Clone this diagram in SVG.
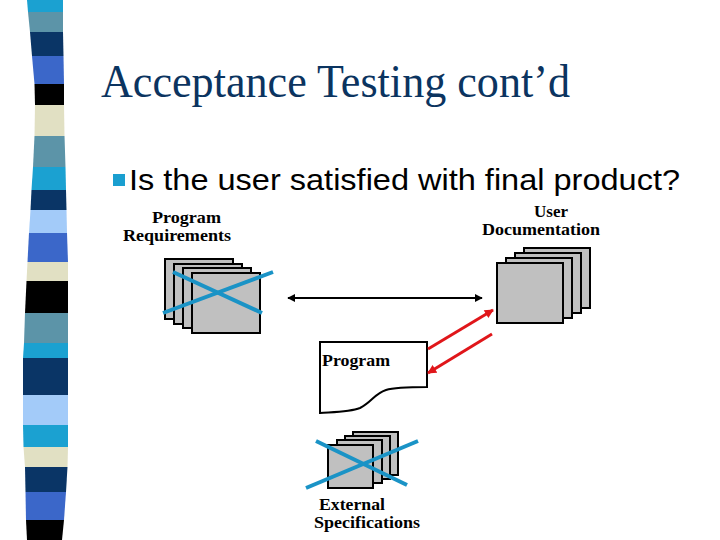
<svg xmlns="http://www.w3.org/2000/svg" width="720" height="540" viewBox="0 0 720 540">
<style>
.sheet{fill:#c0c0c0;stroke:#000;stroke-width:2}
.cross{stroke:#1a93c6;stroke-width:4;stroke-linecap:butt}
.lbl{font-family:"Liberation Serif","Times New Roman",serif;font-weight:bold;font-size:17px;fill:#000}
.red{stroke:#e0161a;stroke-width:3;fill:none}
</style>
<defs>
<marker id="ab" viewBox="0 0 10 10" refX="9" refY="5" markerWidth="4" markerHeight="4" orient="auto-start-reverse" markerUnits="strokeWidth"><path d="M0,0 L10,5 L0,10 Z" fill="#000"/></marker>
<marker id="ar" viewBox="0 0 10 10" refX="9" refY="5" markerWidth="3.3" markerHeight="3" orient="auto" markerUnits="strokeWidth"><path d="M0,0 L10,5 L0,10 Z" fill="#e0161a"/></marker>
</defs>
<rect width="720" height="540" fill="#fff"/>
<g id="stripes">
<polygon fill="#1ba1d1" points="27,0 63,0 63,12 28,12"/>
<polygon fill="#5c94a8" points="28,12 63,12 63,32 30,32"/>
<polygon fill="#0a3566" points="30,32 63,32 63.5,56 32,56"/>
<polygon fill="#3b67c9" points="32,56 63.5,56 64,84 34.5,84"/>
<polygon fill="#000000" points="34.5,84 64,84 64,105 35,105"/>
<polygon fill="#e1e0c3" points="35,105 64,105 64.5,136 34.5,136"/>
<polygon fill="#5c94a8" points="34.5,136 64.5,136 65.5,167 33,167"/>
<polygon fill="#1ba1d1" points="33,167 65.5,167 66,190 31.5,190"/>
<polygon fill="#0a3566" points="31.5,190 66,190 66.5,210 30.5,210"/>
<polygon fill="#a3cbf9" points="30.5,210 66.5,210 67,233 29,233"/>
<polygon fill="#3b67c9" points="29,233 67,233 68,262 27.5,262"/>
<polygon fill="#e1e0c3" points="27.5,262 68,262 68,281 26.5,281"/>
<polygon fill="#000000" points="26.5,281 68,281 68,313 25,313"/>
<polygon fill="#5c94a8" points="25,313 68,313 68,343 24,343"/>
<polygon fill="#1ba1d1" points="24,343 68,343 68,358 23,358"/>
<polygon fill="#0a3566" points="23,358 68,358 68,395 23,395"/>
<polygon fill="#a3cbf9" points="23,395 68,395 68,425 23,425"/>
<polygon fill="#1ba1d1" points="23,425 68,425 68,447 23.5,447"/>
<polygon fill="#e1e0c3" points="23.5,447 68,447 67.5,467 25,467"/>
<polygon fill="#0a3566" points="25,467 67.5,467 66,492 25.5,492"/>
<polygon fill="#3b67c9" points="25.5,492 66,492 64,520 26,520"/>
<polygon fill="#000000" points="26,520 64,520 62,540 27,540"/>
</g>
<g id="title">
<text x="101" y="97" font-family="Liberation Serif,'Times New Roman',serif" font-size="46" fill="#0b3460" textLength="469" lengthAdjust="spacingAndGlyphs">Acceptance Testing cont’d</text>
</g>
<g id="bullet">
<rect x="113" y="174" width="12" height="12" fill="#1a9fd0"/>
<text x="129" y="190" font-family="Liberation Sans,Arial,sans-serif" font-size="29" fill="#000" textLength="551" lengthAdjust="spacingAndGlyphs">Is the user satisfied with final product?</text>
</g>
<g id="program-requirements">
<text class="lbl" x="152" y="223" textLength="69" lengthAdjust="spacingAndGlyphs">Program</text>
<text class="lbl" x="123" y="241" textLength="108" lengthAdjust="spacingAndGlyphs">Requirements</text>
<rect class="sheet" x="165" y="259" width="68" height="60"/>
<rect class="sheet" x="174" y="264" width="68" height="60"/>
<rect class="sheet" x="183" y="268" width="68" height="60"/>
<rect class="sheet" x="192" y="273" width="68" height="60"/>
<line class="cross" x1="163" y1="313" x2="273" y2="272"/>
<line class="cross" x1="173" y1="272" x2="262" y2="313"/>
</g>
<g id="user-documentation">
<text class="lbl" x="534" y="217" textLength="34" lengthAdjust="spacingAndGlyphs">User</text>
<text class="lbl" x="482" y="235" textLength="118" lengthAdjust="spacingAndGlyphs">Documentation</text>
<rect class="sheet" x="524" y="248" width="66" height="60"/>
<rect class="sheet" x="515" y="253" width="66" height="60"/>
<rect class="sheet" x="506" y="258" width="66" height="60"/>
<rect class="sheet" x="497" y="263" width="66" height="60"/>
</g>
<g id="program">
<path d="M320,342 H427 V387 C410,387 395,387 386,390 C374,394 372,402 360,408 C350,412 335,412 320,413 Z" fill="#fff" stroke="#000" stroke-width="2"/>
<text class="lbl" x="322" y="366" textLength="68" lengthAdjust="spacingAndGlyphs">Program</text>
</g>
<g id="external-specifications">
<rect class="sheet" x="353" y="432" width="45" height="43"/>
<rect class="sheet" x="345" y="436" width="45" height="43"/>
<rect class="sheet" x="337" y="440" width="45" height="43"/>
<rect class="sheet" x="328" y="445" width="45" height="43"/>
<line class="cross" x1="316" y1="441" x2="407" y2="485"/>
<line class="cross" x1="418" y1="441" x2="306" y2="488"/>
<text class="lbl" x="319" y="510" textLength="66" lengthAdjust="spacingAndGlyphs">External</text>
<text class="lbl" x="314" y="528" textLength="106" lengthAdjust="spacingAndGlyphs">Specifications</text>
</g>
<g id="connectors">
<line x1="288" y1="298" x2="482" y2="298" stroke="#000" stroke-width="2" marker-start="url(#ab)" marker-end="url(#ab)"/>
<line class="red" x1="428" y1="349" x2="493" y2="310" marker-end="url(#ar)"/>
<line class="red" x1="492" y1="334" x2="428" y2="373" marker-end="url(#ar)"/>
</g>
</svg>
